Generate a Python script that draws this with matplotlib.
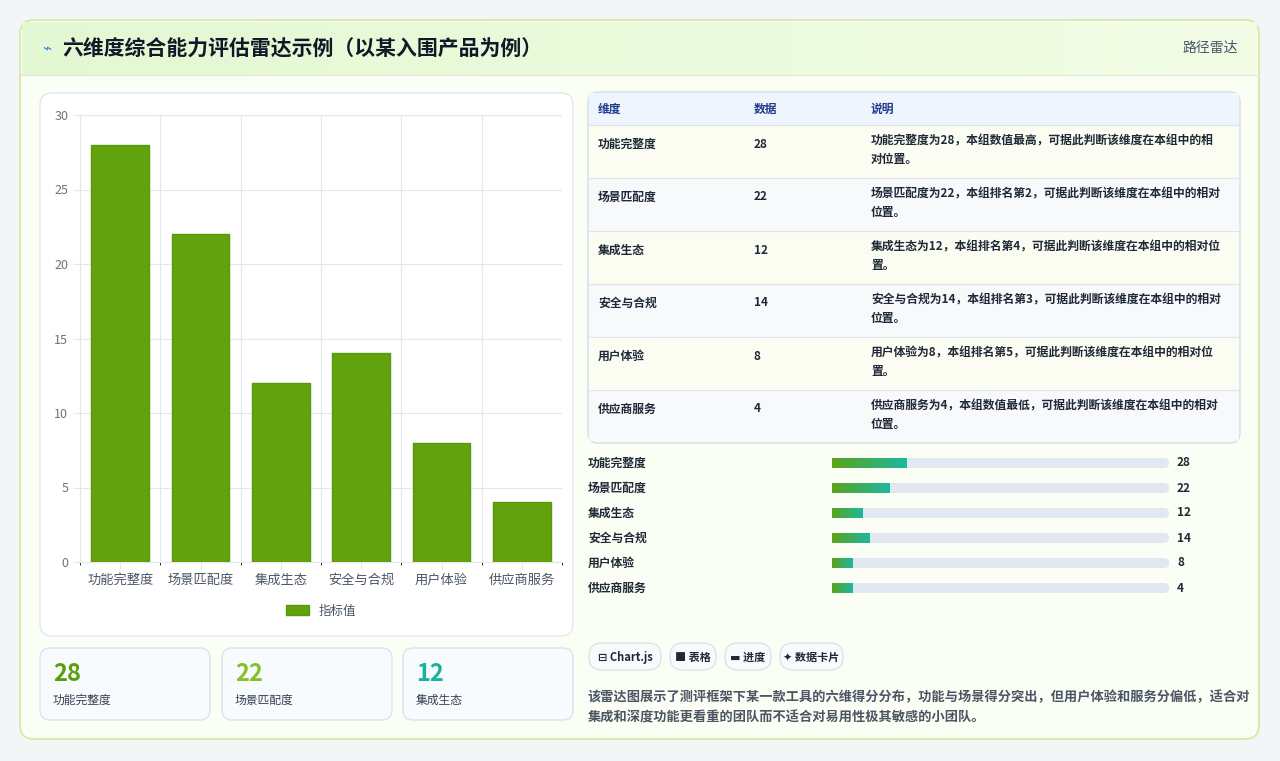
import matplotlib.pyplot as plt
from matplotlib.patches import FancyBboxPatch, Rectangle
import numpy as np

plt.rcParams['font.family'] = ['Noto Sans CJK SC', 'DejaVu Sans']

W, H = 1280, 761

dims = ["功能完整度", "场景匹配度", "集成生态", "安全与合规", "用户体验", "供应商服务"]
values = [28, 22, 12, 14, 8, 4]
notes = [
    "功能完整度为28，本组数值最高，可据此判断该维度在本组中的相\n对位置。",
    "场景匹配度为22，本组排名第2，可据此判断该维度在本组中的相对\n位置。",
    "集成生态为12，本组排名第4，可据此判断该维度在本组中的相对位\n置。",
    "安全与合规为14，本组排名第3，可据此判断该维度在本组中的相对\n位置。",
    "用户体验为8，本组排名第5，可据此判断该维度在本组中的相对位\n置。",
    "供应商服务为4，本组数值最低，可据此判断该维度在本组中的相对\n位置。",
]
progress_frac = [0.22, 0.17, 0.09, 0.11, 0.06, 0.06]
kpi_colors = ["#5a9e0a", "#84c225", "#1bb39b"]
tags = ["⊟ Chart.js", "■ 表格", "▬ 进度", "✦ 数据卡片"]
summary = ("该雷达图展示了测评框架下某一款工具的六维得分分布，功能与场景得分突出，但用户体验和服务分偏低，适合对\n"
           "集成和深度功能更看重的团队而不适合对易用性极其敏感的小团队。")


def px(x, y, w, h):
    return [x / W, 1 - (y + h) / H, w / W, h / H]


fig = plt.figure(figsize=(W / 100, H / 100), dpi=100)
fig.patch.set_facecolor("#f4f5f6")
bg = fig.add_axes([0, 0, 1, 1])
bg.set_xlim(0, W)
bg.set_ylim(H, 0)
bg.axis("off")


def box(x, y, w, h, fc, ec, r=10, lw=1, z=1):
    bg.add_patch(FancyBboxPatch((x, y), w, h, boxstyle=f"round,pad=0,rounding_size={r}",
                                fc=fc, ec=ec, lw=lw, zorder=z))


# outer card and header
box(20, 20, 1239, 719, "#fbfef4", "#cfe9a0", r=14, lw=1.2)
grad = np.linspace(0, 1, 256).reshape(1, -1)
bg.imshow(grad, extent=(22, 1257, 75, 22), cmap=plt.matplotlib.colors.LinearSegmentedColormap.from_list(
    "g", ["#e3f8d2", "#f3fde6"]), aspect="auto", zorder=2)
bg.plot([21, 1258], [75, 75], color="#e2ecd6", lw=1, zorder=3)
bg.text(42, 49, "⌁", fontsize=11, color="#3b82f6", va="center", zorder=4)
bg.text(62, 49, "六维度综合能力评估雷达示例（以某入围产品为例）", fontsize=15, fontweight="bold",
        color="#111827", va="center", zorder=4)
bg.text(1238, 48, "路径雷达", fontsize=10, color="#475569", va="center", ha="right", zorder=4)

# chart card
box(40, 93, 533, 543, "white", "#e2e8f0", r=12)

# table
box(588, 92, 652, 351, "#f8fafc", "#d5dde8", r=10, z=2)
bg.add_patch(Rectangle((589, 93), 650, 32, fc="#eef5fd", ec="none", zorder=3))
for cx, t in zip([598, 754, 871], ["维度", "数据", "说明"]):
    bg.text(cx, 109, t, fontsize=8.5, fontweight="bold", color="#1e3a8a", va="center", zorder=4)
for i, (d, v, n) in enumerate(zip(dims, values, notes)):
    y0 = 125 + i * 53
    bg.add_patch(Rectangle((589, y0), 650, 53 if i < 5 else 51, fc="#fbfdf2" if i % 2 == 0 else "#f7f9fb",
                           ec="none", zorder=3))
    bg.plot([589, 1239], [y0, y0], color="#dde4ec", lw=0.8, zorder=4)
    bg.text(598, y0 + 19, d, fontsize=8.5, fontweight="bold", color="#1f2937", va="center", zorder=4)
    bg.text(754, y0 + 19, str(v), fontsize=8.5, fontweight="bold", color="#1f2937", va="center", zorder=4)
    bg.text(871, y0 + 10, n, fontsize=8.5, fontweight="bold", color="#1f2937", va="top",
            linespacing=1.5, zorder=4)

# progress bars
pcmap = plt.matplotlib.colors.LinearSegmentedColormap.from_list("p", ["#5ba31a", "#1cb8a0"])
for i, (d, v, f) in enumerate(zip(dims, values, progress_frac)):
    yc = 463 + i * 25
    bg.text(588, yc, d, fontsize=8.5, fontweight="bold", color="#1f2937", va="center")
    box(832, yc - 5, 337, 10, "#e2e8f0", "none", r=5, z=2)
    bw = 337 * f
    bg.imshow(grad, extent=(832, 832 + bw, yc + 5, yc - 5), cmap=pcmap, aspect="auto", zorder=3)
    bg.text(1177, yc, str(v), fontsize=8.5, fontweight="bold", color="#1f2937", va="center")

# KPI cards
for i, (x0, d, v, c) in enumerate(zip([40, 222, 403], dims[:3], values[:3], kpi_colors)):
    box(x0, 648, 170, 72, "#f8fbfd", "#dbe4ee", r=10)
    bg.text(x0 + 13, 674, str(v), fontsize=17, fontweight="bold", color=c, va="center")
    bg.text(x0 + 13, 700, d, fontsize=8.5, color="#374151", va="center")

# tags
tx = 589
for t in tags:
    tw = 12 + len(t) * 8.5 if "Chart" not in t else 72
    box(tx, 643, tw, 27, "#f8fafc", "#dde3ea", r=13)
    bg.text(tx + tw / 2, 657, t, fontsize=8, fontweight="bold", color="#1f2937", ha="center", va="center",
            family=['Noto Sans CJK SC', 'DejaVu Sans'])
    tx += tw + 9
bg.text(588, 690, summary, fontsize=9.5, fontweight="bold", color="#4b5563", va="top", linespacing=1.6)

# bar chart
ax = fig.add_axes(px(80, 115, 482, 447))
x = np.arange(len(dims))
ax.bar(x, values, width=0.72, color="#62a30d", edgecolor="#5a980b", zorder=3, label="指标值")
ax.set_xlim(-0.5, 5.5)
ax.set_ylim(0, 30)
ax.set_yticks(range(0, 31, 5))
ax.set_xticks(x)
ax.set_xticklabels(dims, fontsize=9.5, color="#4b5563")
ax.tick_params(axis="y", labelsize=9, colors="#6b7280", length=5, color="#e5e7eb")
ax.tick_params(axis="x", length=5, color="#e5e7eb")
ax.set_xticks(np.arange(-0.5, 6, 1), minor=True)
ax.grid(True, which="minor", axis="x", color="#e5e7eb", lw=0.8)
ax.grid(True, which="major", axis="y", color="#e5e7eb", lw=0.8)
for s in ax.spines.values():
    s.set_color("#e5e7eb")
ax.spines["top"].set_visible(False)
ax.spines["right"].set_visible(False)
ax.set_facecolor("white")
ax.legend(loc="upper center", bbox_to_anchor=(0.5, -0.07), frameon=False, fontsize=9,
          handlelength=1.8, handleheight=0.9, labelcolor="#4b5563")

fig.savefig("out.png", dpi=100)
